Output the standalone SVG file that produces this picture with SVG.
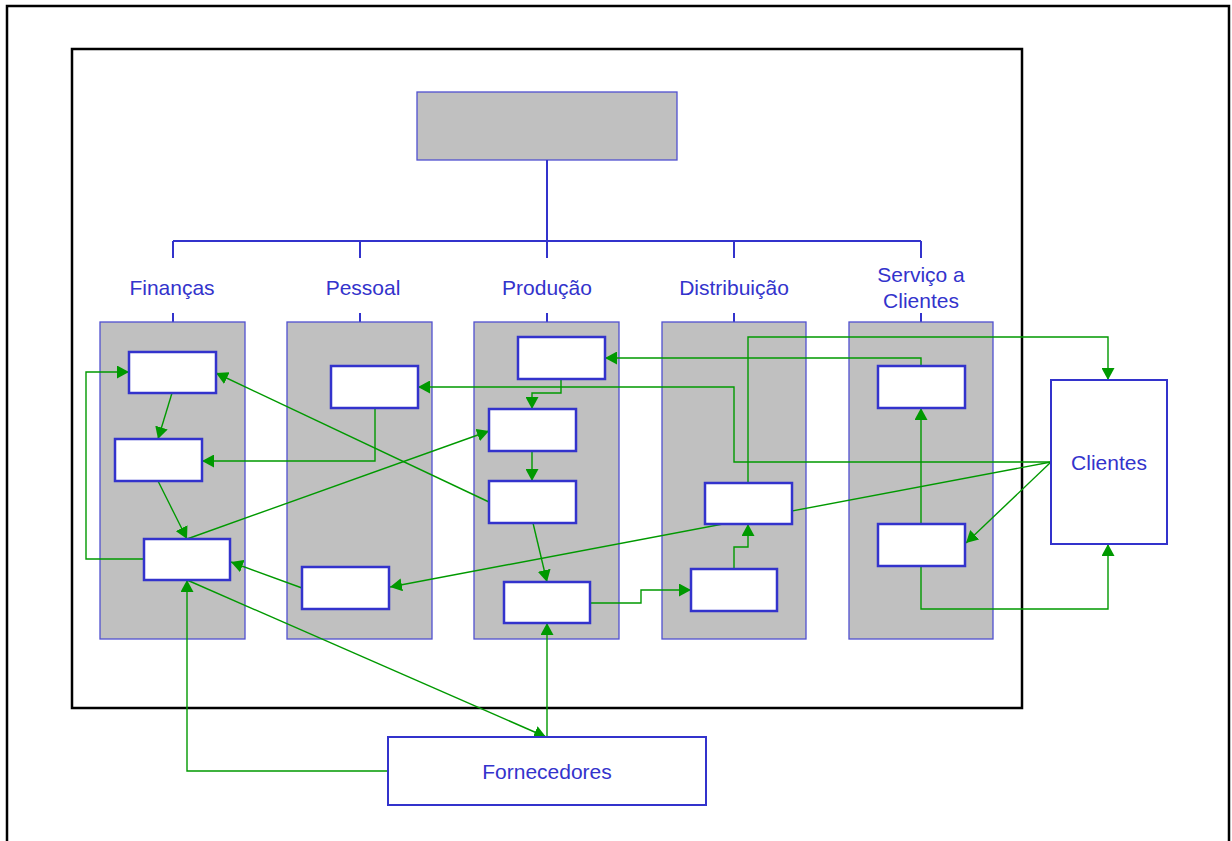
<svg xmlns="http://www.w3.org/2000/svg" width="1232" height="841" viewBox="0 0 1232 841">
  <style>
    .frame { fill: none; stroke: #000; stroke-width: 2.5; }
    .col { fill: #c0c0c0; stroke: #5050d0; stroke-width: 1.3; }
    .box { fill: #fff; stroke: #3333cc; stroke-width: 2.5; }
    .ext { fill: #fff; stroke: #3333cc; stroke-width: 2; }
    .tree { fill: none; stroke: #3333cc; stroke-width: 2; }
    .lbl { font-family: "Liberation Sans", Arial, sans-serif; font-size: 21px; fill: #3333cc; text-anchor: middle; }
    .flow { fill: none; stroke: #009900; stroke-width: 1.4; }
    .flow.arr { marker-end: url(#ah); }
  </style>
  <defs>
    <marker id="ah" viewBox="0 0 12 13" refX="12" refY="6.5" markerWidth="12" markerHeight="13" markerUnits="userSpaceOnUse" orient="auto">
      <path d="M0,0 L12,6.5 L0,13 z" fill="#009900"/>
    </marker>
  </defs>

  <rect width="1232" height="841" fill="#fff"/>

  <!-- page and organisation boundary -->
  <g id="frames">
    <path class="frame" d="M7,841 V6 H1229 V841"/>
    <rect class="frame" x="72" y="49" width="950" height="659"/>
  </g>

  <!-- head of the organisation and the tree to the departments -->
  <g id="head">
    <rect class="col" x="417" y="92" width="260" height="68"/>
  </g>
  <g id="tree">
    <path class="tree" d="M547,160 V241 M173,241 H921 M173,241 V258 M360,241 V258 M547,241 V258 M734,241 V258 M921,241 V258"/>
    <path class="tree" d="M173,313 V322 M360,313 V322 M547,313 V322 M734,313 V322 M921,313 V322"/>
  </g>

  <!-- departments -->
  <g id="financas">
    <text class="lbl" x="172" y="295">Finanças</text>
    <rect class="col" x="100" y="322" width="145" height="317"/>
  </g>
  <g id="pessoal">
    <text class="lbl" x="363" y="295">Pessoal</text>
    <rect class="col" x="287" y="322" width="145" height="317"/>
  </g>
  <g id="producao">
    <text class="lbl" x="547" y="295">Produção</text>
    <rect class="col" x="474" y="322" width="145" height="317"/>
  </g>
  <g id="distribuicao">
    <text class="lbl" x="734" y="295">Distribuição</text>
    <rect class="col" x="662" y="322" width="144" height="317"/>
  </g>
  <g id="servico">
    <text class="lbl" x="921" y="282">Serviço a</text>
    <text class="lbl" x="921" y="308">Clientes</text>
    <rect class="col" x="849" y="322" width="144" height="317"/>
  </g>

  <!-- information flows -->
  <g id="connectors">
    <path class="flow arr" d="M172,393 L158,439"/>
    <path class="flow arr" d="M158,481 L187,539"/>
    <path class="flow arr" d="M144,559 H86 V372 H129"/>
    <path class="flow arr" d="M375,408 V461 H202"/>
    <path class="flow arr" d="M489,502 L216,373"/>
    <path class="flow arr" d="M187,539 L489,431"/>
    <path class="flow arr" d="M302,588 L231,562"/>
    <path class="flow arr" d="M187,580 L546,737"/>
    <path class="flow arr" d="M388,771 H187 V580"/>
    <path class="flow arr" d="M547,737 V623"/>
    <path class="flow arr" d="M1051,462 H734 V387 H418"/>
    <path class="flow arr" d="M1051,462 L390,587"/>
    <path class="flow arr" d="M561,379 V393 H532 V409"/>
    <path class="flow arr" d="M532,451 V481"/>
    <path class="flow arr" d="M533,523 L547,582"/>
    <path class="flow arr" d="M590,603 H641 V590 H691"/>
    <path class="flow arr" d="M921,366 V358 H605"/>
    <path class="flow arr" d="M734,569 V547 H748 V524"/>
    <path class="flow arr" d="M748,483 V337 H1108 V380"/>
    <path class="flow arr" d="M921,524 V408"/>
    <path class="flow arr" d="M1051,462 L966,543"/>
    <path class="flow arr" d="M921,566 V609 H1108 V544"/>
  </g>

  <!-- activity boxes -->
  <g id="fin-1"><rect class="box" x="129" y="352" width="87" height="41"/></g>
  <g id="fin-2"><rect class="box" x="115" y="439" width="87" height="42"/></g>
  <g id="fin-3"><rect class="box" x="144" y="539" width="86" height="41"/></g>
  <g id="pes-1"><rect class="box" x="331" y="366" width="87" height="42"/></g>
  <g id="pes-2"><rect class="box" x="302" y="567" width="87" height="42"/></g>
  <g id="pro-1"><rect class="box" x="518" y="337" width="87" height="42"/></g>
  <g id="pro-2"><rect class="box" x="489" y="409" width="87" height="42"/></g>
  <g id="pro-3"><rect class="box" x="489" y="481" width="87" height="42"/></g>
  <g id="pro-4"><rect class="box" x="504" y="582" width="86" height="41"/></g>
  <g id="dis-1"><rect class="box" x="705" y="483" width="87" height="41"/></g>
  <g id="dis-2"><rect class="box" x="691" y="569" width="86" height="42"/></g>
  <g id="ser-1"><rect class="box" x="878" y="366" width="87" height="42"/></g>
  <g id="ser-2"><rect class="box" x="878" y="524" width="87" height="42"/></g>

  <!-- external parties -->
  <g id="clientes">
    <rect class="ext" x="1051" y="380" width="116" height="164"/>
    <text class="lbl" x="1109" y="470">Clientes</text>
  </g>
  <g id="fornecedores">
    <rect class="ext" x="388" y="737" width="318" height="68"/>
    <text class="lbl" x="547" y="779">Fornecedores</text>
  </g>
</svg>
